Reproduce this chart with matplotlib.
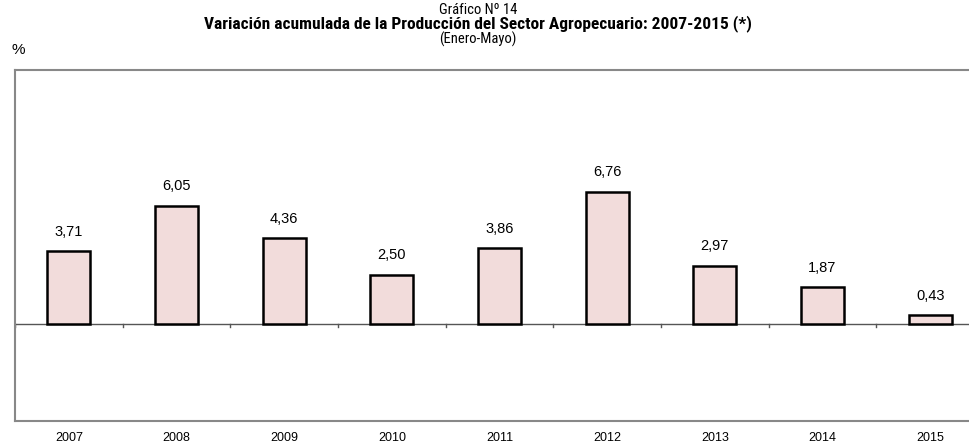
import matplotlib.pyplot as plt
import numpy as np

# Datos del gráfico (Enero-Mayo)
anios = ['2007', '2008', '2009', '2010', '2011', '2012', '2013', '2014', '2015']
variacion = [3.71, 6.05, 4.36, 2.50, 3.86, 6.76, 2.97, 1.87, 0.43]

narrow = ['Roboto Condensed', 'Liberation Sans', 'DejaVu Sans']
plt.rcParams['font.family'] = ['Liberation Sans', 'DejaVu Sans']

fig = plt.figure(figsize=(9.7, 4.47), dpi=100)
ax = fig.add_axes([15 / 970, 26 / 447, 969 / 970, 351 / 447])

x = np.arange(len(anios))
ax.bar(x, variacion, width=0.4, color='#f2dcdb', edgecolor='black', linewidth=1.8, zorder=3)

# Etiquetas de valores con coma decimal
for xi, v in zip(x, variacion):
    ax.annotate(f'{v:.2f}'.replace('.', ','), (xi, v), xytext=(0, 9), textcoords='offset points',
                ha='center', va='bottom', fontsize=10.5)

# Línea de cero con marcas entre categorías
ax.axhline(0, color='#555555', linewidth=1, zorder=2)
for k in range(len(anios) + 1):
    ax.plot([k - 0.5, k - 0.5], [0, -0.2], color='#555555', linewidth=1, zorder=2)

ax.set_xlim(-0.5, len(anios) - 0.5)
ax.set_ylim(-5, 13)
ax.set_xticks([])
ax.set_yticks([])
for s in ax.spines.values():
    s.set_color('#888888')
    s.set_linewidth(1.5)

# Años debajo del recuadro
for xi, a in zip(x, anios):
    ax.text(xi, -5.85, a, ha='center', va='center', fontsize=9)

fig.text(0.493, 1 - 10 / 447, 'Gráfico Nº 14', ha='center', va='center', fontsize=10.5, family=narrow)
fig.text(0.493, 1 - 24 / 447, 'Variación acumulada de la Producción del Sector Agropecuario: 2007-2015 (*)',
         ha='center', va='center', fontsize=12.5, fontweight='bold', family=narrow)
fig.text(0.493, 1 - 39 / 447, '(Enero-Mayo)', ha='center', va='center', fontsize=10.5, family=narrow)
fig.text(18 / 970, 1 - 50 / 447, '%', ha='center', va='center', fontsize=11)

plt.savefig('out.png', dpi=100)
